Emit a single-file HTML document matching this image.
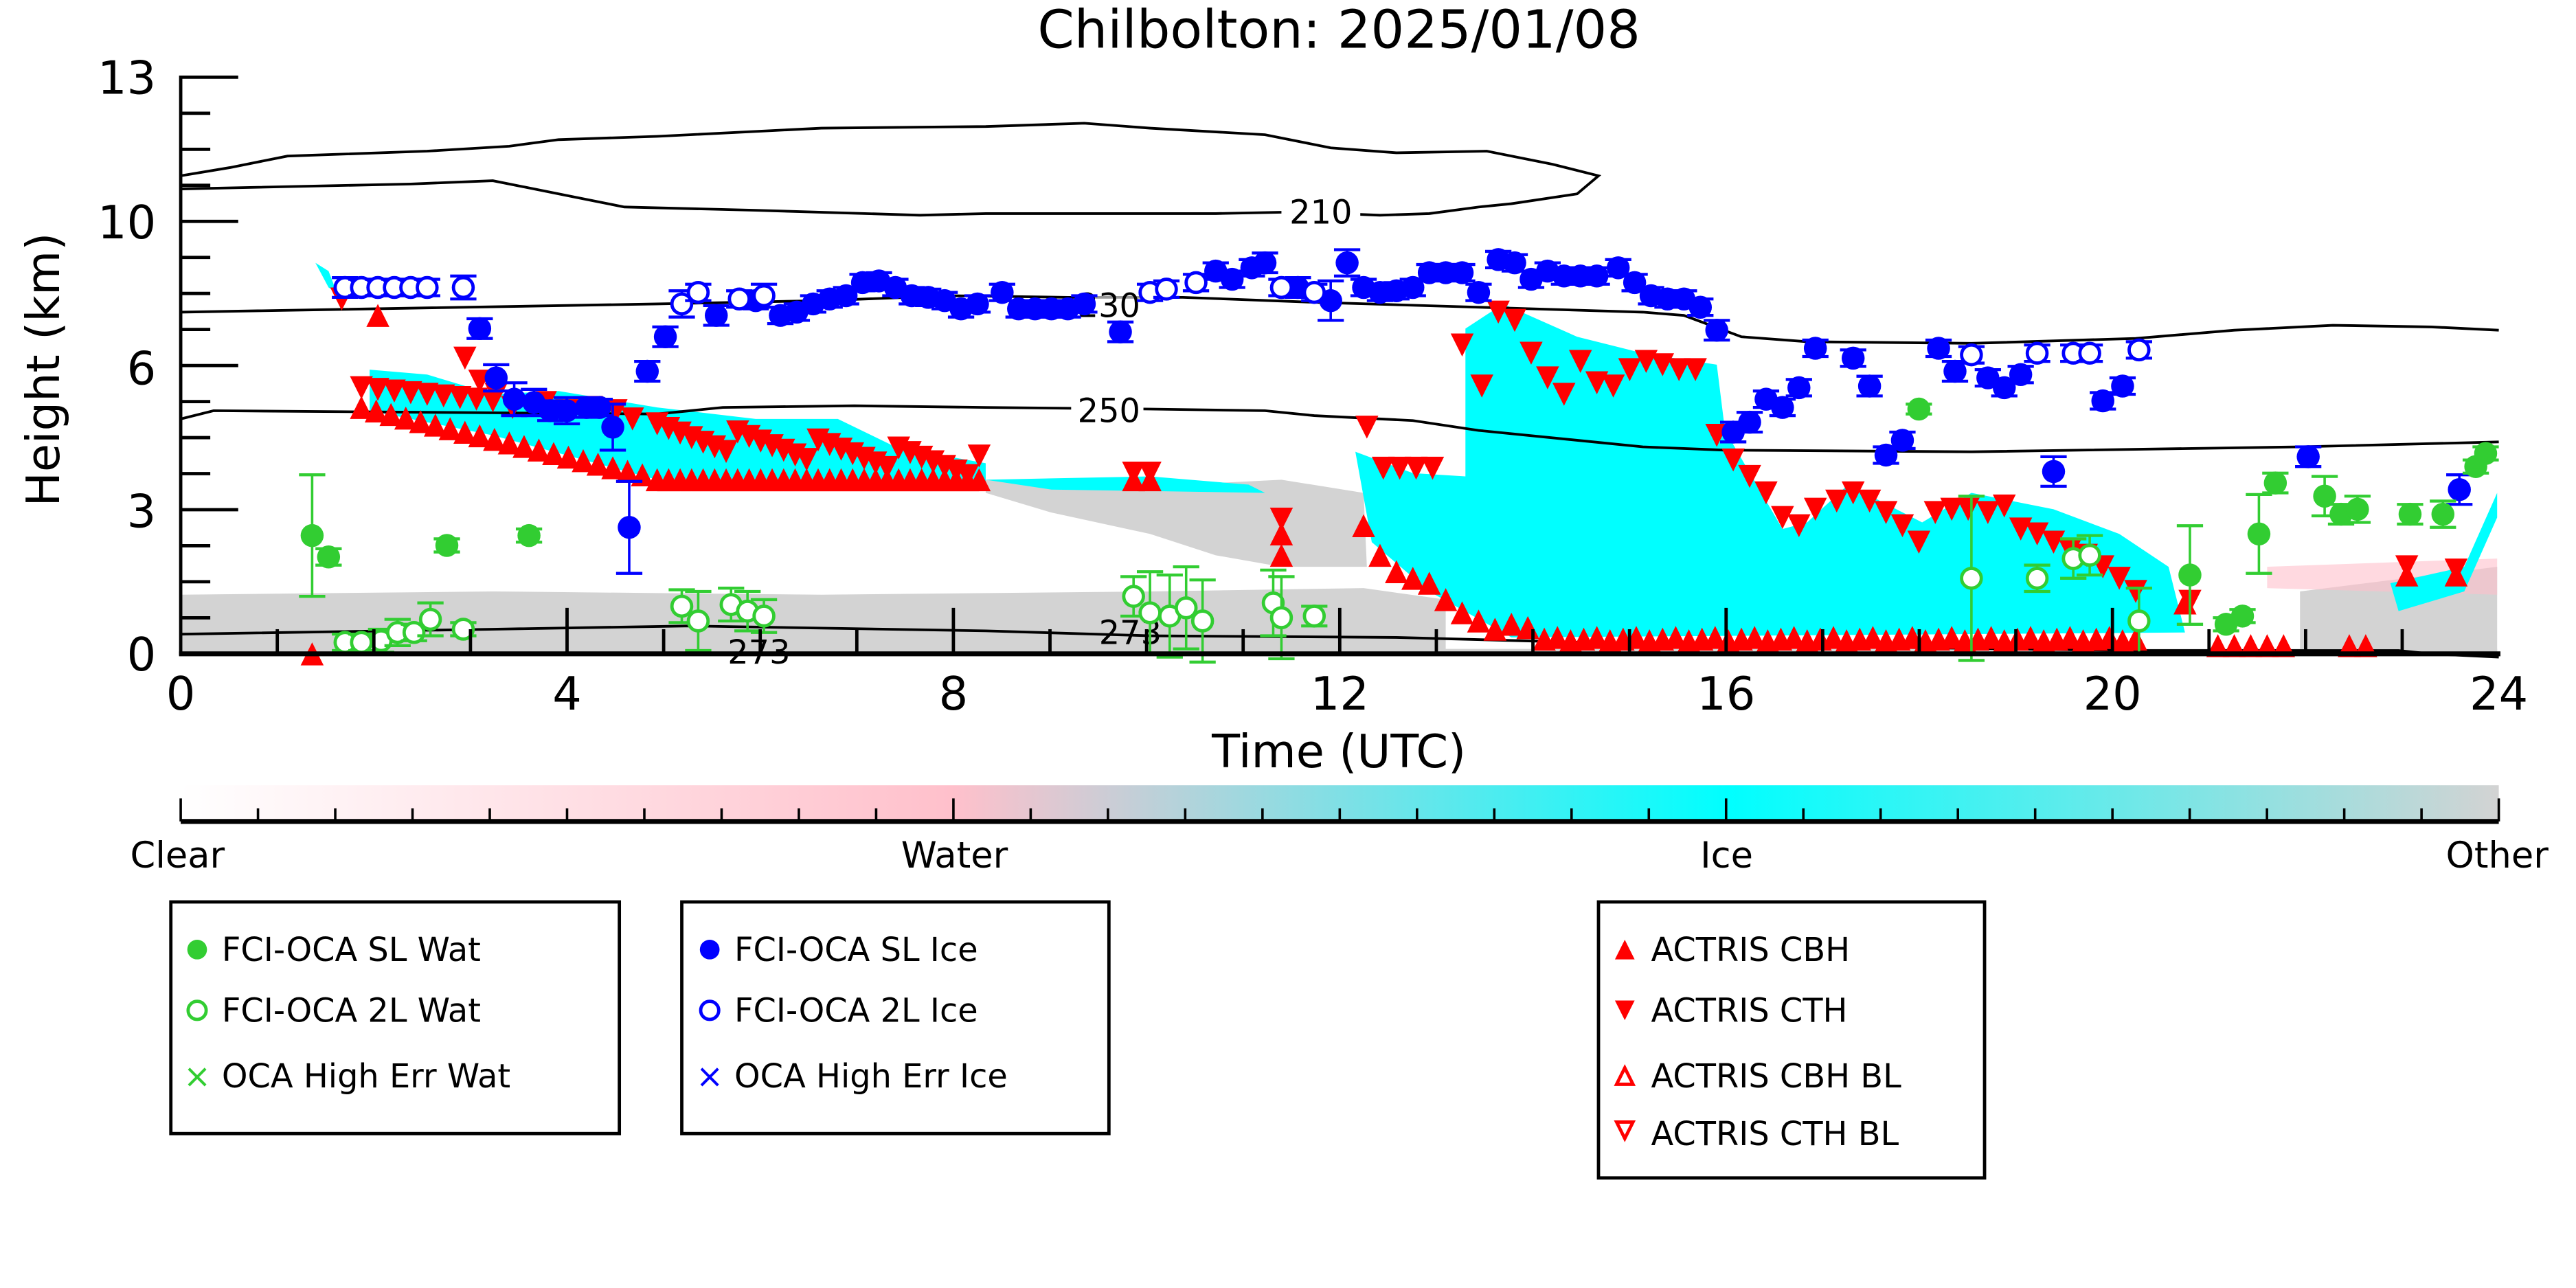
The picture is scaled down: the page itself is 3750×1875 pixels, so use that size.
<!DOCTYPE html>
<html><head><meta charset="utf-8"><style>
html,body{margin:0;padding:0;background:#fff;}
svg{display:block;}
text{font-family:"DejaVu Sans","Liberation Sans",sans-serif;}
</style></head><body>
<svg id="s" width="3750" height="1875" viewBox="0 0 1568 784" xmlns="http://www.w3.org/2000/svg">
<defs>
<linearGradient id="cb" x1="0" x2="1" y1="0" y2="0">
<stop offset="0" stop-color="#ffffff"/>
<stop offset="0.333" stop-color="#ffc0cb"/>
<stop offset="0.667" stop-color="#00ffff"/>
<stop offset="1" stop-color="#d3d3d3"/>
</linearGradient>
<clipPath id="pc"><rect x="110" y="47" width="1411" height="351"/></clipPath>
</defs>
<g id="plot" clip-path="url(#pc)">
<polygon fill="#d3d3d3" points="110,362 300,360 500,362 700,360 830,358 880,365 880,398 110,398"/>
<polygon fill="#d3d3d3" points="600,292 700,296 780,292 830,300 832,345 780,345 740,338 700,325 640,312 600,300"/>
<polygon fill="#d3d3d3" points="1400,360 1520,345 1520,398 1400,398"/>
<polygon fill="#ffc0cb" opacity="0.6" points="1380,345 1520,340 1520,362 1380,358"/>
<polygon fill="#00ffff" points="225,225 260,228 300,240 340,238 400,248 460,255 510,255 545,272 600,282 600,296 400,292 300,265 225,250"/>
<polygon fill="#00ffff" points="192,160 200,165 205,178 200,175"/>
<polygon fill="#00ffff" points="825,275 860,288 892,290 892,200 915,185 960,205 1000,215 1045,222 1050,262 1085,322 1100,318 1125,295 1170,318 1200,300 1250,310 1290,325 1320,345 1330,385 920,388 870,360 835,330"/>
<polygon fill="#00ffff" points="600,292 700,290 760,295 770,300 640,298"/>
<polygon fill="#00ffff" points="1455,355 1500,345 1520,300 1520,315 1500,360 1460,372"/>
<polygon fill="#d3d3d3" points="110,395 1520,395 1520,398 110,398"/>
</g>
<g fill="none" stroke="#000" stroke-width="1.6">
<polyline points="110,386 300,383 420,381 600,384 700,387 850,388 1000,392 1300,396 1460,396 1480,398 1521,400"/>
<polyline points="110,255 130,250 400,252 440,248 520,247 600,248 700,249 770,250 800,253 860,256 900,262 960,268 1000,272 1050,274 1200,275 1400,272 1521,269"/>
<polyline points="110,190 400,185 500,183 580,180 650,181 720,181 800,184 900,187 1000,190 1025,192 1060,205 1100,208 1200,209 1300,206 1360,201 1420,198 1480,199 1521,201"/>
<polyline points="110,107 140,102 175,95 260,92 310,89 340,85 400,83 500,78 600,77 660,75 700,78 770,82 810,90 850,93 905,92 945,100 973,107 960,118 920,124 900,126 870,130 840,131 790,129 740,130 600,130 560,131 460,128 380,126 350,120 300,110 250,112 110,115"/>
</g>
<rect x="780" y="118" width="48" height="20" fill="#fff"/>
<text x="804" y="136" font-size="20" text-anchor="middle">210</text>
<rect x="655" y="175" width="40" height="18" fill="#fff" opacity="0.6"/>
<text x="675" y="193" font-size="20" text-anchor="middle">230</text>
<rect x="652" y="240" width="44" height="20" fill="#fff"/>
<text x="675" y="257" font-size="20" text-anchor="middle">250</text>
<text x="688" y="392" font-size="20" text-anchor="middle">273</text>
<text x="462" y="404" font-size="20" text-anchor="middle">273</text>
<g id="marks"></g>
<g stroke="#000" fill="none">
<line x1="110" y1="46" x2="110" y2="399" stroke-width="2"/>
<line x1="109" y1="398" x2="1522" y2="398" stroke-width="3"/>
<g id="ticks" stroke-width="2"></g>
</g>
<g font-size="28" text-anchor="end" id="yl"></g>
<g font-size="28" text-anchor="middle" id="xl"></g>
<text x="815" y="29" font-size="32" text-anchor="middle">Chilbolton: 2025/01/08</text>
<text x="815" y="467" font-size="28" text-anchor="middle">Time (UTC)</text>
<text transform="translate(36,225) rotate(-90)" font-size="28" text-anchor="middle">Height (km)</text>
<rect x="110" y="478" width="1411" height="22" fill="url(#cb)"/>
<line x1="110" y1="500" x2="1521" y2="500" stroke="#000" stroke-width="3"/>
<g id="cbt" stroke="#000" stroke-width="1.5"></g>
<g font-size="22" text-anchor="middle">
<text x="108" y="528">Clear</text><text x="581" y="528">Water</text><text x="1051" y="528">Ice</text><text x="1520" y="528">Other</text>
</g>
<g fill="none" stroke="#000" stroke-width="2">
<rect x="104" y="549" width="273" height="141"/>
<rect x="415" y="549" width="260" height="141"/>
<rect x="973" y="549" width="235" height="168"/>
</g>
<g font-size="20">
<circle cx="120" cy="578" r="6" fill="#32cd32"/><text x="135" y="585">FCI-OCA SL Wat</text>
<circle cx="120" cy="615" r="5.5" fill="#fff" stroke="#32cd32" stroke-width="2"/><text x="135" y="622">FCI-OCA 2L Wat</text>
<text x="120" y="662" fill="#32cd32" text-anchor="middle">×</text><text x="135" y="662">OCA High Err Wat</text>
<circle cx="432" cy="578" r="6" fill="#0000ff"/><text x="447" y="585">FCI-OCA SL Ice</text>
<circle cx="432" cy="615" r="5.5" fill="#fff" stroke="#0000ff" stroke-width="2"/><text x="447" y="622">FCI-OCA 2L Ice</text>
<text x="432" y="662" fill="#0000ff" text-anchor="middle">×</text><text x="447" y="662">OCA High Err Ice</text>
<polygon points="983,584 995,584 989,572" fill="#f00"/><text x="1005" y="585">ACTRIS CBH</text>
<polygon points="983,609 995,609 989,621" fill="#f00"/><text x="1005" y="622">ACTRIS CTH</text>
<polygon points="984,660 994,660 989,650" fill="none" stroke="#f00" stroke-width="2"/><text x="1005" y="662">ACTRIS CBH BL</text>
<polygon points="984,683 994,683 989,693" fill="none" stroke="#f00" stroke-width="2"/><text x="1005" y="697">ACTRIS CTH BL</text>
</g>
</svg>
<script>
var NS="http://www.w3.org/2000/svg";
function el(p,t,a){var e=document.createElementNS(NS,t);for(var k in a)e.setAttribute(k,a[k]);p.appendChild(e);return e;}
var tk=document.getElementById('ticks');
for(var i=0;i<=16;i++){var y=47+i*(351/16);var L=(i%4==0)?35:18;el(tk,'line',{x1:110,y1:y,x2:110+L,y2:y});}
for(var h=1;h<24;h++){var x=110+h*1411/24;el(tk,'line',{x1:x,y1:398,x2:x,y2:h%4==0?370:383});}
var yl=document.getElementById('yl');[['13',47],['10',135],['6',224],['3',311],['0',398]].forEach(function(a){var t=el(yl,'text',{x:95,y:a[1]+10});t.textContent=a[0];});
var xl=document.getElementById('xl');for(var h=0;h<=24;h+=4){var t=el(xl,'text',{x:110+h*1411/24,y:432});t.textContent=h;}
var cbt=document.getElementById('cbt');for(var i=0;i<=30;i++){var x=110+i*1411/30;el(cbt,'line',{x1:x,y1:500,x2:x,y2:(i%10==0)?486:492});}
var m=document.getElementById('marks');
function circ(x,y,c,open,e){if(e){el(m,'line',{x1:x,y1:y-e,x2:x,y2:y+e,stroke:c,'stroke-width':1.5});el(m,'line',{x1:x-8,y1:y-e,x2:x+8,y2:y-e,stroke:c,'stroke-width':1.8});el(m,'line',{x1:x-8,y1:y+e,x2:x+8,y2:y+e,stroke:c,'stroke-width':1.8});}
 el(m,'circle',{cx:x,cy:y,r:open?6:7,fill:open?'#fff':c,stroke:open?c:'none','stroke-width':2});}
function up(x,y){el(m,'polygon',{points:(x-7)+','+(y+7)+' '+(x+7)+','+(y+7)+' '+x+','+(y-7),fill:'#f00'});}
function dn(x,y){el(m,'polygon',{points:(x-7)+','+(y-7)+' '+(x+7)+','+(y-7)+' '+x+','+(y+7),fill:'#f00'});}
var i,x;
for(x=220;x<=395;x+=9)up(x,248+(x-220)*0.24);
for(x=400;x<=600;x+=7)up(x,292);
for(x=220;x<=300;x+=10)dn(x,236+(x-220)*0.1);
[[208,182],[283,218],[292,232],[302,240],[312,248],[332,245],[345,250],[360,248],[375,250],[385,255]].forEach(function(p){dn(p[0],p[1]);});
for(x=400;x<=600;x+=7)dn(x,258+((x-400)%49)*0.3+(x-400)*0.1);
up(230,192);dn(690,288);up(690,292);dn(700,288);up(700,292);dn(780,316);up(780,325);up(780,338);
[[830,320],[840,338],[850,348],[860,352],[870,355],[880,365],[890,373],[900,378],[910,383],[920,380],[930,382]].forEach(function(p){up(p[0],p[1]);});
for(x=940;x<=1300;x+=8)up(x,388+(x%3));
for(x=1350;x<=1390;x+=10)up(x,393);up(1430,393);up(1440,393);up(1330,367);up(1465,350);up(1495,350);up(190,398);
[[832,260],[842,285],[852,285],[862,285],[872,285],[890,210],[902,235],[912,190],[922,195],[932,215],[942,230],[952,240],[962,220],[972,233],[982,235],[992,225],[1002,220],[1012,222],[1022,225],[1032,225],[1045,265],[1055,280],[1065,290],[1075,300],[1085,315],[1095,320],[1105,310],[1118,305],[1128,300],[1138,305],[1148,312],[1158,320],[1168,330],[1178,312],[1188,310],[1198,310],[1210,312],[1220,308],[1230,322],[1240,325],[1250,330],[1260,335],[1270,338],[1280,345],[1290,352],[1300,360],[1333,366],[1465,345],[1495,347]].forEach(function(p){dn(p[0],p[1]);});
var B='#0000ff';
[[292,200,6],[302,230,8],[313,243,10],[325,245,8],[335,250,6],[345,250,8],[357,248,6],[365,248,5],[373,260,14],[383,321,28],[394,226,6],[405,205,6],[436,192,6],[460,183,5],[475,192,5],[485,190,5],[495,185,5],[505,182,5],[515,180,5],[525,172,5],[535,171,5],[545,175,5],[555,180,5],[565,181,5],[575,183,5],[585,188,5],[595,185,5],[610,178,5],[620,188,5],[630,188,5],[640,188,5],[650,188,5],[660,185,5],[682,202,6],[740,165,5],[750,170,5],[762,163,5],[770,160,6],[790,175,6],[810,183,12],[820,160,8],[830,175,5],[840,178,5],[850,177,5],[860,175,5],[870,166,5],[880,166,5],[890,166,5],[900,178,5],[912,158,5],[922,160,5],[932,170,5],[942,165,5],[952,168,5],[962,168,5],[972,168,5],[985,163,5],[995,172,5],[1005,180,5],[1015,182,5],[1025,182,5],[1035,187,5],[1045,201,6],[1055,263,6],[1065,257,6],[1075,243,5],[1085,248,5],[1095,236,5],[1105,212,5],[1128,218,5],[1138,235,6],[1148,277,5],[1158,268,5],[1180,212,5],[1190,226,6],[1210,230,5],[1220,236,5],[1230,228,5],[1280,244,5],[1292,235,5],[1250,287,9],[1405,278,6],[1497,298,9]].forEach(function(p){circ(p[0],p[1],B,false,p[2]);});
[[210,175,6],[220,175,5],[230,175,5],[240,175,5],[250,175,5],[260,175,5],[282,175,7],[415,185,8],[425,178,5],[450,182,5],[465,180,7],[700,178,5],[710,176,5],[728,172,5],[780,175,5],[800,178,5],[1200,216,5],[1240,215,5],[1262,215,5],[1272,215,5],[1302,213,5]].forEach(function(p){circ(p[0],p[1],B,true,p[2]);});
var G='#32cd32';
[[190,326,37],[200,339,5],[272,332,4],[322,326,4],[1168,249,3],[1333,350,30],[1375,325,24],[1385,294,6],[1415,302,12],[1425,313,6],[1435,310,8],[1467,313,6],[1487,313,8],[1507,284,4],[1513,276,4],[1355,380,4],[1365,375,4]].forEach(function(p){circ(p[0],p[1],G,false,p[2]);});
[[210,391,5],[220,391,5],[232,390,7],[242,385,8],[252,385,5],[262,377,10],[282,383,4],[415,369,10],[425,378,18],[445,368,10],[455,372,12],[465,375,10],[690,363,12],[700,373,25],[712,375,25],[722,370,25],[732,378,25],[775,367,20],[780,376,25],[800,375,6],[1200,352,50],[1240,352,8],[1262,340,12],[1272,338,12],[1302,378,20]].forEach(function(p){circ(p[0],p[1],G,true,p[2]);});
</script>
</body></html>
